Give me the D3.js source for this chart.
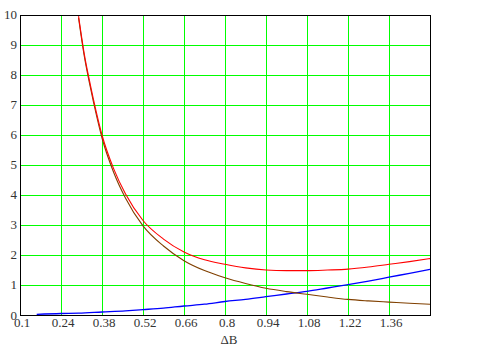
<!DOCTYPE html>
<html>
<head>
<meta charset="utf-8">
<script src="https://cdn.jsdelivr.net/npm/d3@7"></script>
<style>
  body { margin: 0; background: #fff; }
  text { font-family: "Liberation Serif", "DejaVu Serif", serif; fill: #333; }
</style>
</head>
<body>
<div id="chart"></div>
<script>
// x positions (ΔB) used for the curves
var xB = [0.3, 0.32, 0.34, 0.36, 0.38, 0.42, 0.46, 0.52, 0.59, 0.66, 0.73, 0.8, 0.87,
          0.94, 1.01, 1.08, 1.15, 1.22, 1.29, 1.36, 1.43, 1.5];
var brownVals = [9.9, 8.6, 7.6, 6.7, 5.9, 4.75, 3.9, 2.97, 2.3, 1.81, 1.48, 1.24, 1.05,
                 0.89, 0.78, 0.69, 0.6, 0.52, 0.47, 0.43, 0.39, 0.36];
var redVals = [9.96, 8.67, 7.68, 6.79, 6.0, 4.87, 4.04, 3.15, 2.53, 2.1, 1.84, 1.69, 1.57,
               1.5, 1.48, 1.48, 1.5, 1.53, 1.6, 1.69, 1.78, 1.88];
// blue curve starts earlier
var xBlue = [0.157, 0.24, 0.3, 0.38, 0.46, 0.52, 0.59, 0.66, 0.73, 0.8, 0.87, 0.94, 1.01,
             1.08, 1.15, 1.22, 1.29, 1.36, 1.43, 1.5];
var blueVals = [0.02, 0.05, 0.06, 0.1, 0.14, 0.18, 0.23, 0.3, 0.36, 0.45, 0.52, 0.61, 0.7,
                0.79, 0.9, 1.01, 1.13, 1.26, 1.39, 1.52];

var xTicks = [0.1, 0.24, 0.38, 0.52, 0.66, 0.8, 0.94, 1.08, 1.22, 1.36];
var yTicks = [0, 1, 2, 3, 4, 5, 6, 7, 8, 9, 10];

var w = 488, h = 346;
var pl = 20, pr = 430, pt = 15, pb = 315;

var svg = d3.select("#chart").append("svg")
    .attr("width", w)
    .attr("height", h);

var x = d3.scaleLinear().domain([0.1, 1.5]).range([pl, pr]);
var y = d3.scaleLinear().domain([0, 10]).range([pb, pt]);

// grid
svg.append("g").selectAll("line")
    .data(xTicks.slice(1))
    .enter().append("line")
    .attr("x1", function(d) { return Math.round(x(d)) + 0.5; })
    .attr("x2", function(d) { return Math.round(x(d)) + 0.5; })
    .attr("y1", pt).attr("y2", pb)
    .attr("stroke", "#00ff00").attr("stroke-width", 1);

svg.append("g").selectAll("line")
    .data(yTicks.slice(1, -1))
    .enter().append("line")
    .attr("y1", function(d) { return Math.round(y(d)) + 0.5; })
    .attr("y2", function(d) { return Math.round(y(d)) + 0.5; })
    .attr("x1", pl).attr("x2", pr)
    .attr("stroke", "#00ff00").attr("stroke-width", 1);

svg.append("clipPath").attr("id", "clip")
  .append("rect")
    .attr("x", pl).attr("y", pt)
    .attr("width", pr - pl).attr("height", pb - pt);

var line = d3.line()
    .x(function(d) { return x(d[0]); })
    .y(function(d) { return y(d[1]); })
    .curve(d3.curveMonotoneX);

var curves = svg.append("g").attr("clip-path", "url(#clip)");

curves.append("path")
    .datum(d3.zip(xBlue, blueVals))
    .attr("d", line)
    .attr("fill", "none").attr("stroke", "#0000ff").attr("stroke-width", 1.3);

curves.append("path")
    .datum(d3.zip(xB, brownVals))
    .attr("d", line)
    .attr("fill", "none").attr("stroke", "#804000").attr("stroke-width", 1.1);

curves.append("path")
    .datum(d3.zip(xB, redVals))
    .attr("d", line)
    .attr("fill", "none").attr("stroke", "#ff0000").attr("stroke-width", 1.1);

// frame
svg.append("rect")
    .attr("x", pl + 0.5).attr("y", pt + 0.5)
    .attr("width", pr - pl).attr("height", pb - pt)
    .attr("fill", "none").attr("stroke", "#000").attr("stroke-width", 1);

// tick labels
svg.append("g").selectAll("text")
    .data(xTicks)
    .enter().append("text")
    .attr("x", function(d) { return x(d) + 2; })
    .attr("y", 327)
    .attr("text-anchor", "middle")
    .attr("font-size", 13)
    .text(function(d) { return d; });

svg.append("g").selectAll("text")
    .data(yTicks)
    .enter().append("text")
    .attr("x", 17)
    .attr("y", function(d) { return y(d) + 4 + (d === 0 ? 1 : 0); })
    .attr("text-anchor", "end")
    .attr("font-size", 13)
    .text(function(d) { return d; });

svg.append("text")
    .attr("x", 229).attr("y", 344)
    .attr("text-anchor", "middle")
    .attr("font-size", 13)
    .text("ΔB");
</script>
</body>
</html>
